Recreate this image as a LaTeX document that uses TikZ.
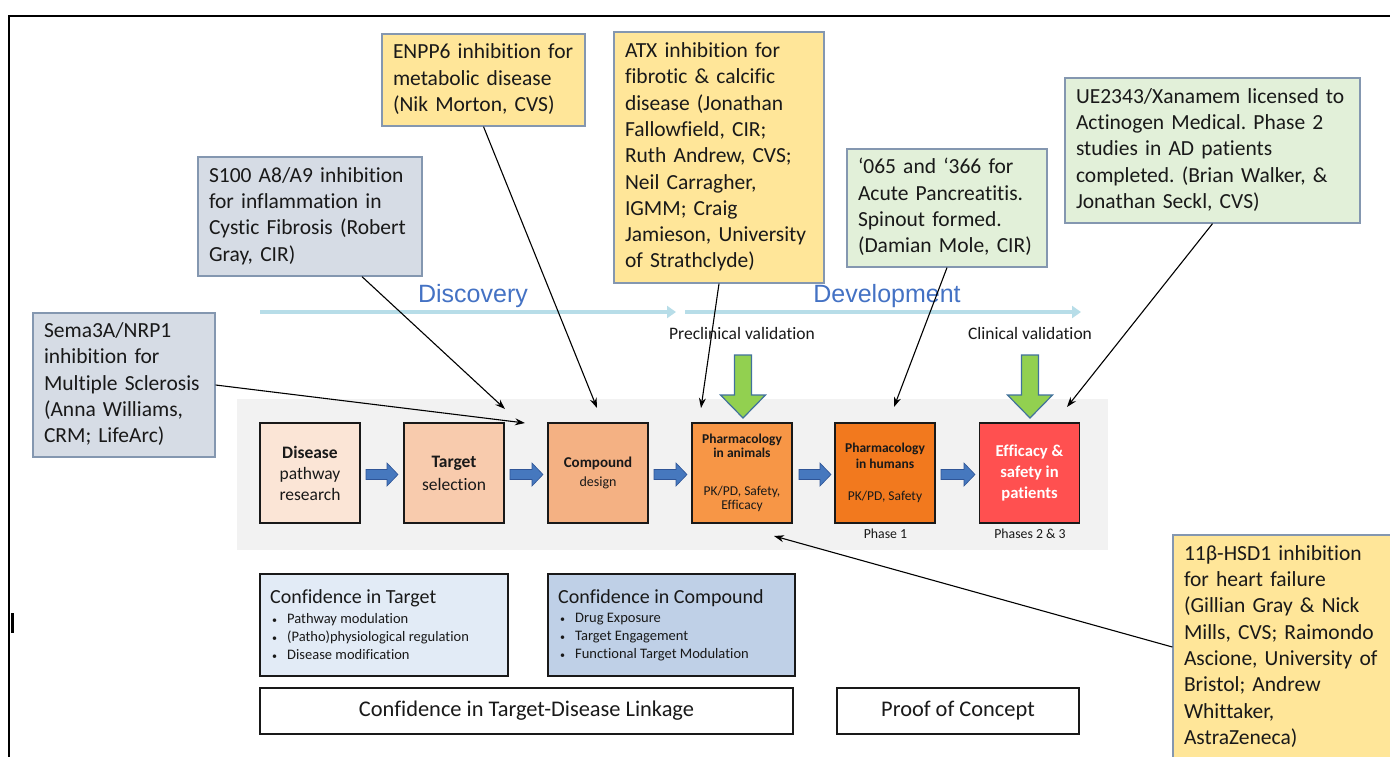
\documentclass[tikz,border=0pt]{standalone}
\usepackage{fontspec}
\setmainfont{Carlito}[Ligatures=NoCommon]
\newfontfamily\arialf{Liberation Sans}
\usetikzlibrary{arrows.meta,calc}
\definecolor{cyell}{RGB}{255,230,153}
\definecolor{cgrayb}{RGB}{214,220,229}
\definecolor{cgreen}{RGB}{226,240,217}
\definecolor{cbord}{RGB}{132,151,176}
\definecolor{ctext}{RGB}{25,25,25}
\definecolor{cpanel}{RGB}{242,242,242}
\definecolor{cdis}{RGB}{251,229,214}
\definecolor{ctar}{RGB}{248,203,173}
\definecolor{ccomp}{RGB}{244,177,131}
\definecolor{canim}{RGB}{247,150,70}
\definecolor{chum}{RGB}{242,121,30}
\definecolor{ceff}{RGB}{255,80,80}
\definecolor{cblue}{RGB}{70,120,190}
\definecolor{cbluedark}{RGB}{47,85,151}
\definecolor{cgreenar}{RGB}{146,208,80}
\definecolor{cgreenbd}{RGB}{65,113,156}
\definecolor{cphase}{RGB}{183,221,232}
\definecolor{cdisc}{RGB}{68,114,196}
\definecolor{cconfT}{RGB}{226,235,246}
\definecolor{cconfC}{RGB}{191,208,231}
\newcommand\mybul{\makebox[15pt][l]{\fontsize{10}{10}\selectfont\textbullet}}
\frenchspacing
\begin{document}
\begin{tikzpicture}[x=1pt,y=-1pt,
  callout/.style={draw=cbord, line width=1.3pt, inner xsep=11pt, inner ysep=0pt, align=left, text=ctext, font=\fontsize{21.5}{26.3}\selectfont},
  stage/.style={draw=ctext, line width=1.6pt, minimum width=100pt, minimum height=100pt, inner sep=0pt, align=center, text=ctext},
  conn/.style={draw=black, line width=1.1pt, -{Stealth[length=10pt,width=7pt]}},
  confbox/.style={draw=ctext, line width=1.6pt, minimum width=248pt, minimum height=102pt, inner sep=0pt},
  linkbox/.style={draw=ctext, line width=1.6pt, fill=white, minimum height=46pt, inner sep=0pt, text=ctext, font=\fontsize{22.4}{24}\selectfont},
  phasearrow/.style={line width=4.5pt, draw=cphase, -{Triangle[length=9pt,width=12pt]}},
  phaselabel/.style={text=cdisc, font=\arialf\fontsize{25}{27}\selectfont},
  smalllabel/.style={text=ctext, font=\fontsize{17.5}{19}\selectfont},
  greenarrow/.style={fill=cgreenar, draw=cgreenbd, line width=1.2pt, line join=miter},
  bluearrow/.style={fill=cblue, draw=cbluedark, line width=0.6pt}
]
\clip (0,0) rectangle (1390,756);
\fill[white] (0,0) rectangle (1390,756);
% frame
\draw[line width=2pt, black] (8.5,760) -- (8.5,15.5) -- (1395,15.5);
\fill[black] (10.5,613) rectangle (13.5,633);

% grey panel
\node[fill=cpanel, minimum width=871pt, minimum height=151pt, inner sep=0pt] (panel) at (672.5,474.5) {};

% phase arrows and labels
\coordinate (discS) at (260,312);
\coordinate (discE) at (676,312);
\coordinate (devS) at (685,312);
\coordinate (devE) at (1081,312);
\draw[phasearrow] (discS) -- (discE);
\draw[phasearrow] (devS) -- (devE);
\node[phaselabel] (disc) at (473,296) {Discovery};
\node[phaselabel] (dev) at (887,296) {Development};
\node[smalllabel] (precl) at (742,333) {Preclinical validation};
\node[smalllabel] (clin) at (1030,333) {Clinical validation};

% green arrows
\foreach \cx in {743,1030}{
  \draw[greenarrow] ({\cx-8.5},355) -- ({\cx+8.5},355) -- ({\cx+8.5},395) -- ({\cx+22.5},395) -- (\cx,418) -- ({\cx-22.5},395) -- ({\cx-8.5},395) -- cycle;
}

% pipeline stages
\node[stage, fill=cdis, font=\fontsize{17.5}{21}\selectfont] (disease) at (310,473) {\textbf{Disease}\\pathway\\research};
\node[stage, fill=ctar, font=\fontsize{17.5}{23}\selectfont] (target) at (454,473) {\textbf{Target}\\selection};
\node[stage, fill=ccomp, font=\fontsize{15}{19}\selectfont] (compound) at (598,473) {\textbf{Compound}\\{\fontsize{14}{19}\selectfont design}};
\node[stage, fill=canim, font=\fontsize{13.5}{14}\selectfont] (animals) at (742,473) {\textbf{Pharmacology}\\\textbf{in animals}\\[24pt]PK/PD, Safety,\\Efficacy};
\node[stage, fill=chum, font=\fontsize{13.5}{16}\selectfont] (humans) at (885,473) {\textbf{Pharmacology}\\\textbf{in humans}\\[16pt]PK/PD, Safety};
\node[stage, fill=ceff, text=white, font=\fontsize{16.6}{21}\selectfont\bfseries] (efficacy) at (1029.5,473) {Efficacy \&\\safety in\\patients};

% blue block arrows between stages
\foreach \xa/\xb in {366/398,510/543,654/687,799/831,941/975}{
  \draw[bluearrow] (\xa,469.5) -- ({\xb-11},469.5) -- ({\xb-11},463) -- (\xb,474.5) -- ({\xb-11},486) -- ({\xb-11},479.5) -- (\xa,479.5) -- cycle;
}

\node[text=ctext, font=\fontsize{13.8}{15}\selectfont] (ph1) at (885.5,534) {Phase 1};
\node[text=ctext, font=\fontsize{13.8}{15}\selectfont] (ph23) at (1030,534) {Phases 2 \& 3};

% callouts
\node[callout, fill=cyell, text width=181pt, minimum height=92pt] (enpp) at (483.5,80) {\begin{tabular}{@{}l@{}}ENPP6 inhibition for\\metabolic disease\\(Nik Morton, CVS)\end{tabular}};
\node[callout, fill=cyell, text width=188pt, minimum height=251pt] (atx) at (719,157.5) {\begin{tabular}{@{}l@{}}ATX inhibition for\\fibrotic \& calcific\\disease (Jonathan\\Fallowfield, CIR;\\Ruth Andrew, CVS;\\Neil Carragher,\\IGMM; Craig\\Jamieson, University\\of Strathclyde)\end{tabular}};
\node[callout, fill=cgrayb, text width=202pt, minimum height=119pt] (s100) at (310,216.5) {\begin{tabular}{@{}l@{}}S100 A8/A9 inhibition\\for inflammation in\\Cystic Fibrosis (Robert\\Gray, CIR)\end{tabular}};
\node[callout, fill=cgreen, text width=178pt, minimum height=118pt] (x065) at (947,208) {\begin{tabular}{@{}l@{}}‘065 and ‘366 for\\Acute Pancreatitis.\\Spinout formed.\\(Damian Mole, CIR)\end{tabular}};
\node[callout, fill=cgreen, text width=273pt, minimum height=145pt] (ue) at (1212.5,150.5) {\begin{tabular}{@{}l@{}}UE2343/Xanamem licensed to\\Actinogen Medical. Phase 2\\studies in AD patients\\completed. (Brian Walker, \&\\Jonathan Seckl, CVS)\end{tabular}};
\node[callout, fill=cgrayb, text width=160pt, minimum height=144pt] (sema) at (124,385) {\begin{tabular}{@{}l@{}}Sema3A/NRP1\\inhibition for\\Multiple Sclerosis\\(Anna Williams,\\CRM; LifeArc)\end{tabular}};
\node[callout, fill=cyell, text width=218pt, minimum height=224pt] (hsd) at (1293,647) {\begin{tabular}{@{}l@{}}11β-HSD1 inhibition\\for heart failure\\(Gillian Gray \& Nick\\Mills, CVS; Raimondo\\Ascione, University of\\Bristol; Andrew\\Whittaker,\\AstraZeneca)\end{tabular}};

% connector end points
\coordinate (eSema) at (525,423);
\coordinate (eS100) at (505,409);
\coordinate (eEnpp) at (597,408);
\coordinate (eAtx) at (701,408);
\coordinate (e065) at (894,407);
\coordinate (eUe) at (1067,407);
\coordinate (eHsd) at (774,536);

\draw[conn] (sema.east) -- (eSema);
\draw[conn] ([xshift=52pt]s100.south) -- (eS100);
\draw[conn] (enpp.south) -- (eEnpp);
\draw[conn] (atx.south) -- (eAtx);
\draw[conn] (x065.south) -- (e065);
\draw[conn] (ue.south) -- (eUe);
\draw[conn] (hsd.west) -- (eHsd);

% confidence boxes
\node[confbox, fill=cconfT] (confT) at (384,625) {};
\node[anchor=west, text=ctext, font=\fontsize{20}{21}\selectfont, inner sep=0pt] (confTt) at (270,598) {Confidence in Target};
\node[anchor=west, align=left, text=ctext, font=\fontsize{14.5}{18}\selectfont, inner sep=0pt] (confTb) at (272,637) {\mybul Pathway modulation\\\mybul (Patho)physiological regulation\\\mybul Disease modification};

\node[confbox, fill=cconfC, minimum width=247pt] (confC) at (671.5,625) {};
\node[anchor=west, text=ctext, font=\fontsize{20}{21}\selectfont, inner sep=0pt] (confCt) at (558,598) {Confidence in Compound};
\node[anchor=west, align=left, text=ctext, font=\fontsize{14.5}{18}\selectfont, inner sep=0pt] (confCb) at (560,637) {\mybul Drug Exposure\\\mybul Target Engagement\\\mybul Functional Target Modulation};

\node[linkbox, minimum width=533pt] (link) at (526.5,711) {Confidence in Target-Disease Linkage};
\node[linkbox, minimum width=242pt] (poc) at (958,711) {Proof of Concept};
\end{tikzpicture}
\end{document}
